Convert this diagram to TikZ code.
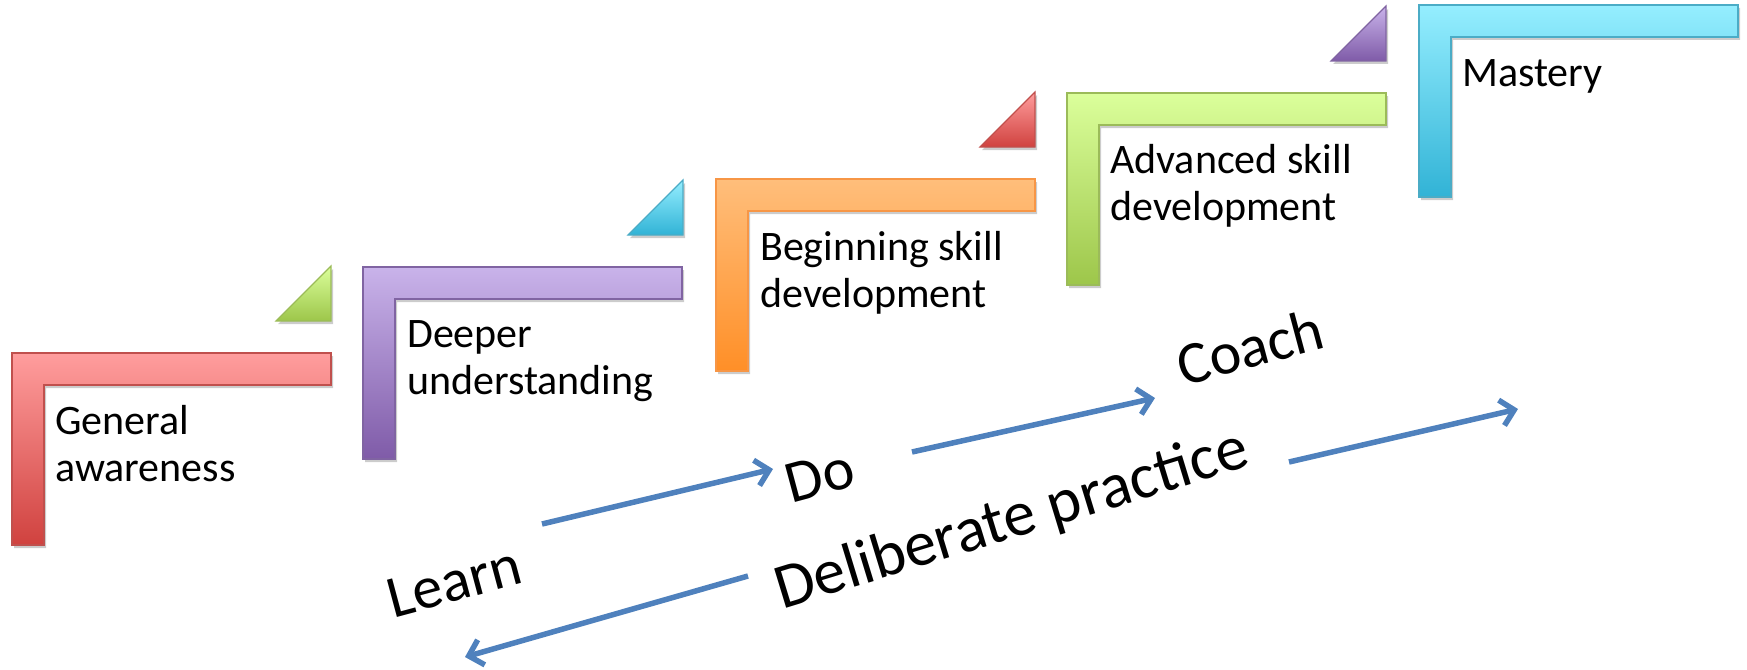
\documentclass[tikz,border=0pt]{standalone}
\usepackage{fontspec}
\setmainfont{Carlito}
\usetikzlibrary{arrows.meta,shadows}

% office-style accent colours: light tint at the top, full tone at the bottom
\definecolor{redtop}{HTML}{FF9D9D}
\definecolor{redbot}{HTML}{D0423F}
\definecolor{redline}{HTML}{C0504D}
\definecolor{purpletop}{HTML}{C9B3EA}
\definecolor{purplebot}{HTML}{7F5BA8}
\definecolor{purpleline}{HTML}{8064A2}
\definecolor{orangetop}{HTML}{FFBE7B}
\definecolor{orangebot}{HTML}{FF8F27}
\definecolor{orangeline}{HTML}{F79646}
\definecolor{greentop}{HTML}{DBFF9B}
\definecolor{greenbot}{HTML}{9DC64A}
\definecolor{greenline}{HTML}{9BBB59}
\definecolor{cyantop}{HTML}{95EEFF}
\definecolor{cyanbot}{HTML}{31B3D6}
\definecolor{cyanline}{HTML}{4BACC6}
\definecolor{flowblue}{HTML}{4F81BD}

% one step of the staircase: top-left corner and colour
\newcommand{\stair}[3]{%
  \shadedraw[stairpart, draw=#3line, top color=#3top, bottom color=#3bot]
    (#1,#2) -- ++(319,0) -- ++(0,32) -- ++(-287,0) -- ++(0,160) -- ++(-32,0) -- cycle;}
% small wedge between two steps: right-angle corner and colour
\newcommand{\riser}[3]{%
  \shadedraw[stairpart, draw=#3line, top color=#3top, bottom color=#3bot]
    (#1,#2) -- ++(-55,0) -- ++(55,-55) -- cycle;}

\begin{document}
\begin{tikzpicture}[x=1pt, y=-1pt,
    stairpart/.style={line width=1.2pt, line join=miter,
        drop shadow={shadow xshift=2pt, shadow yshift=-3pt, opacity=0.2, fill=black}},
    steplabel/.style={anchor=base west, inner sep=0pt, align=left,
        font=\fontsize{42}{46.5}\selectfont},
    bigword/.style={inner sep=0pt, font=\fontsize{60}{72}\selectfont},
    flow/.style={draw=flowblue, line width=5.5pt,
        -{Straight Barb[length=13pt, width=26pt]}}]
    \useasboundingbox (0,0) rectangle (1747,669);

    % staircase
    \stair{12}{353}{red}
    \stair{363}{267}{purple}
    \stair{716}{179}{orange}
    \stair{1067}{93}{green}
    \stair{1419}{5}{cyan}

    \riser{331}{321}{green}
    \riser{683}{235}{cyan}
    \riser{1035}{147}{red}
    \riser{1386}{61}{purple}

    % step labels (base is the last line)
    \node[steplabel] (general) at (55,481) {General\\awareness};
    \node[steplabel] (deeper) at (407,394) {Deeper\\understanding};
    \node[steplabel] (beginning) at (760,307) {Beginning skill\\development};
    \node[steplabel] (advanced) at (1110,220) {Advanced skill\\development};
    \node[steplabel] (mastery) at (1462,86) {Mastery};

    % learn - do - coach cycle
    \node[bigword, rotate=15] (learn) at (454,582) {Learn};
    \node[bigword, rotate=15] (do) at (820,476) {Do};
    \node[bigword, rotate=15] (coach) at (1250,347) {Coach};
    \node[bigword, rotate=17, font=\fontsize{64}{76}\selectfont] (practice)
        at (1012,521) {Deliberate practice};

    \coordinate (learn-out) at (542,524);
    \coordinate (do-in) at (773,469);
    \coordinate (do-out) at (912,452);
    \coordinate (coach-in) at (1155,398);
    \coordinate (practice-r) at (1289,462);
    \coordinate (practice-rtip) at (1518,409);
    \coordinate (practice-l) at (748,576);
    \coordinate (practice-ltip) at (465,657);

    \draw[flow] (learn-out) -- (do-in);
    \draw[flow] (do-out) -- (coach-in);
    \draw[flow] (practice-r) -- (practice-rtip);
    \draw[flow] (practice-l) -- (practice-ltip);
\end{tikzpicture}
\end{document}
